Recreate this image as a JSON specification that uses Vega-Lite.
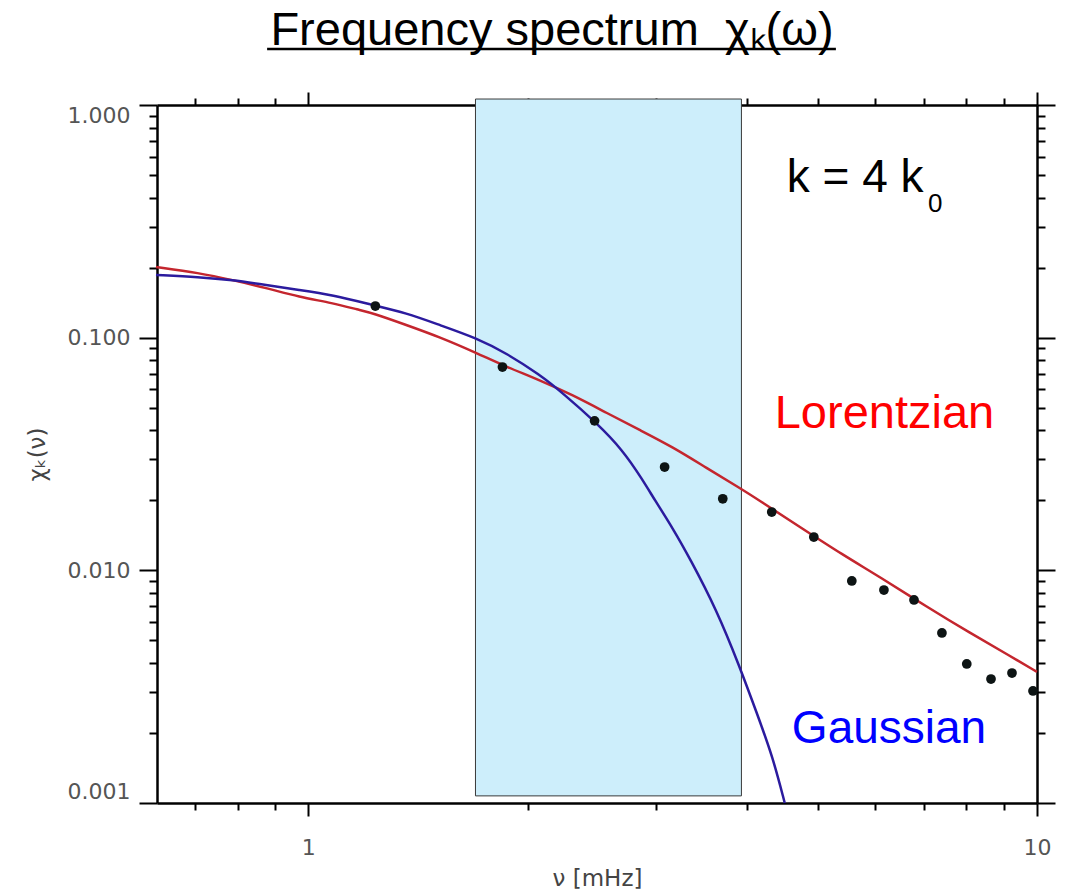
{
  "$schema": "https://vega.github.io/schema/vega-lite/v6.json",
  "width": 880,
  "height": 698,
  "autosize": {"type": "none"},
  "padding": {"left": 157, "top": 105, "right": 28, "bottom": 93},
  "background": "white",
  "config": {
    "view": {"stroke": null},
    "axis": {"grid": false, "zindex": 1, "tickColor": "black", "domainColor": "black", "tickWidth": 2, "domainWidth": 2.5, "labelOverlap": false}
  },
  "title": {
    "text": "Frequency spectrum\u00a0 χₖ(ω)",
    "font": "Liberation Sans",
    "fontSize": 47,
    "fontWeight": "normal",
    "color": "black",
    "anchor": "middle",
    "dx": -45,
    "offset": -7
  },
  "datasets": {
    "band": [{"nu_lo": 1.696, "nu_hi": 3.93, "chi_lo": 0.001073, "chi_hi": 1.061}],
    "lorentzian": [
      {"nu": 0.618, "chi": 0.2013}, {"nu": 0.7084, "chi": 0.1897}, {"nu": 0.7863, "chi": 0.177},
      {"nu": 0.8756, "chi": 0.1635}, {"nu": 0.9719, "chi": 0.1496}, {"nu": 1.0788, "chi": 0.141},
      {"nu": 1.175, "chi": 0.1315}, {"nu": 1.2243, "chi": 0.1277}, {"nu": 1.3633, "chi": 0.1134},
      {"nu": 1.5136, "chi": 0.1007}, {"nu": 1.7013, "chi": 0.086}, {"nu": 1.8707, "chi": 0.0748},
      {"nu": 2.0763, "chi": 0.0658}, {"nu": 2.3049, "chi": 0.0567}, {"nu": 2.5666, "chi": 0.0475},
      {"nu": 2.849, "chi": 0.0401}, {"nu": 3.1623, "chi": 0.0339}, {"nu": 3.5214, "chi": 0.0275},
      {"nu": 3.9087, "chi": 0.0226}, {"nu": 4.1652, "chi": 0.0199}, {"nu": 4.7259, "chi": 0.01537},
      {"nu": 5.4145, "chi": 0.01165}, {"nu": 6.0857, "chi": 0.00937}, {"nu": 7.063, "chi": 0.00696},
      {"nu": 8.091, "chi": 0.00538}, {"nu": 9.1823, "chi": 0.00429}, {"nu": 10, "chi": 0.00366}
    ],
    "gaussian": [
      {"nu": 0.618, "chi": 0.186}, {"nu": 0.7084, "chi": 0.1823}, {"nu": 0.7863, "chi": 0.177},
      {"nu": 0.8756, "chi": 0.1684}, {"nu": 0.9719, "chi": 0.1603}, {"nu": 1.0788, "chi": 0.1526},
      {"nu": 1.2243, "chi": 0.1382}, {"nu": 1.3633, "chi": 0.1277}, {"nu": 1.5136, "chi": 0.1134},
      {"nu": 1.7013, "chi": 0.0997}, {"nu": 1.8707, "chi": 0.0857}, {"nu": 2.0763, "chi": 0.0694},
      {"nu": 2.2334, "chi": 0.0579}, {"nu": 2.4866, "chi": 0.043}, {"nu": 2.7003, "chi": 0.0329},
      {"nu": 2.8758, "chi": 0.0245}, {"nu": 2.9874, "chi": 0.0201}, {"nu": 3.1623, "chi": 0.0152},
      {"nu": 3.3371, "chi": 0.0113}, {"nu": 3.634, "chi": 0.00676}, {"nu": 3.9087, "chi": 0.00385},
      {"nu": 4.1247, "chi": 0.00244}, {"nu": 4.3386, "chi": 0.00158}, {"nu": 4.5063, "chi": 0.001}
    ],
    "measured": [
      {"nu": 1.236, "chi": 0.1368}, {"nu": 1.847, "chi": 0.0748}, {"nu": 2.471, "chi": 0.0439},
      {"nu": 3.083, "chi": 0.0278}, {"nu": 3.705, "chi": 0.0203}, {"nu": 4.325, "chi": 0.0178},
      {"nu": 4.94, "chi": 0.0139}, {"nu": 5.57, "chi": 0.009}, {"nu": 6.165, "chi": 0.00823},
      {"nu": 6.78, "chi": 0.00746}, {"nu": 7.405, "chi": 0.00538}, {"nu": 8.01, "chi": 0.00396},
      {"nu": 8.647, "chi": 0.00341}, {"nu": 9.24, "chi": 0.00362}, {"nu": 9.875, "chi": 0.00303}
    ]
  },
  "layer": [
    {
      "data": {"name": "band"},
      "mark": {"type": "rect", "fill": "#cdeefb", "stroke": "#3a3a3a", "strokeWidth": 1},
      "encoding": {
        "x": {"field": "nu_lo", "type": "quantitative", "scale": {"type": "log", "domain": [0.62, 10]},
          "axis": {"orient": "bottom", "values": [1, 10], "format": "d", "tickSize": 13, "labelFlush": false,
            "labelFont": "DejaVu Sans", "labelFontSize": 22, "labelColor": "#555", "labelPadding": 21,
            "title": "ν [mHz]", "titleFont": "DejaVu Sans", "titleFontSize": 23, "titleFontWeight": "normal", "titleColor": "#444", "titlePadding": 9}},
        "x2": {"field": "nu_hi"},
        "y": {"field": "chi_lo", "type": "quantitative", "scale": {"type": "log", "domain": [0.001, 1]},
          "axis": {"orient": "left", "values": [0.001, 0.01, 0.1, 1], "format": ".3f", "tickSize": 18, "labelFlush": true,
            "labelFont": "DejaVu Sans", "labelFontSize": 22, "labelColor": "#555", "labelPadding": 9,
            "title": "χₖ(ν)", "titleFont": "DejaVu Sans", "titleFontSize": 23, "titleFontWeight": "normal", "titleColor": "#444", "titlePadding": 18}},
        "y2": {"field": "chi_hi"}
      }
    },
    {
      "data": {"name": "lorentzian"},
      "mark": {"type": "line", "color": "#c4262e", "strokeWidth": 2.5, "interpolate": "basis"},
      "encoding": {
        "x": {"field": "nu", "type": "quantitative", "scale": {"type": "log", "domain": [0.62, 10]},
          "axis": {"orient": "bottom", "values": [0.7, 0.8, 0.9, 2, 3, 4, 5, 6, 7, 8, 9], "tickSize": 7, "labels": false, "domain": false, "title": null}},
        "y": {"field": "chi", "type": "quantitative", "scale": {"type": "log", "domain": [0.001, 1]},
          "axis": {"orient": "left", "values": [0.002, 0.003, 0.004, 0.005, 0.006, 0.007, 0.008, 0.009, 0.02, 0.03, 0.04, 0.05, 0.06, 0.07, 0.08, 0.09, 0.2, 0.3, 0.4, 0.5, 0.6, 0.7, 0.8, 0.9], "tickSize": 8, "labels": false, "domain": false, "title": null}}
      }
    },
    {
      "data": {"name": "gaussian"},
      "mark": {"type": "line", "color": "#2b1b9e", "strokeWidth": 2.5, "interpolate": "basis"},
      "encoding": {
        "x": {"field": "nu", "type": "quantitative", "scale": {"type": "log", "domain": [0.62, 10]},
          "axis": {"orient": "top", "values": [1, 10], "tickSize": 13, "labels": false, "domain": true, "title": null}},
        "y": {"field": "chi", "type": "quantitative", "scale": {"type": "log", "domain": [0.001, 1]},
          "axis": {"orient": "right", "values": [0.001, 0.01, 0.1, 1], "tickSize": 18, "labels": false, "domain": true, "title": null}}
      }
    },
    {
      "data": {"name": "measured"},
      "mark": {"type": "circle", "color": "#0d1414", "opacity": 1, "size": 95},
      "encoding": {
        "x": {"field": "nu", "type": "quantitative", "scale": {"type": "log", "domain": [0.62, 10]},
          "axis": {"orient": "top", "values": [0.7, 0.8, 0.9, 2, 3, 4, 5, 6, 7, 8, 9], "tickSize": 7, "labels": false, "domain": false, "title": null}},
        "y": {"field": "chi", "type": "quantitative", "scale": {"type": "log", "domain": [0.001, 1]},
          "axis": {"orient": "right", "values": [0.002, 0.003, 0.004, 0.005, 0.006, 0.007, 0.008, 0.009, 0.02, 0.03, 0.04, 0.05, 0.06, 0.07, 0.08, 0.09, 0.2, 0.3, 0.4, 0.5, 0.6, 0.7, 0.8, 0.9], "tickSize": 8, "labels": false, "domain": false, "title": null}}
      }
    },
    {
      "data": {"values": [{"nu_lo": 0.878, "nu_hi": 5.297, "chi": 1.74}]},
      "mark": {"type": "rule", "color": "black", "strokeWidth": 2.5},
      "encoding": {
        "x": {"field": "nu_lo", "type": "quantitative", "scale": {"type": "log", "domain": [0.62, 10]}, "axis": null},
        "x2": {"field": "nu_hi"},
        "y": {"field": "chi", "type": "quantitative", "scale": {"type": "log", "domain": [0.001, 1]}, "axis": null}
      }
    },
    {
      "data": {"values": [{"label": "k = 4 k", "nu": 4.536, "chi": 0.4228}]},
      "mark": {"type": "text", "align": "left", "baseline": "alphabetic", "font": "Liberation Sans", "fontSize": 46, "color": "black"},
      "encoding": {
        "x": {"field": "nu", "type": "quantitative", "scale": {"type": "log", "domain": [0.62, 10]}, "axis": null},
        "y": {"field": "chi", "type": "quantitative", "scale": {"type": "log", "domain": [0.001, 1]}, "axis": null},
        "text": {"field": "label"}
      }
    },
    {
      "data": {"values": [{"label": "0", "nu": 7.086, "chi": 0.3468}]},
      "mark": {"type": "text", "align": "left", "baseline": "alphabetic", "font": "Liberation Sans", "fontSize": 26, "color": "black"},
      "encoding": {
        "x": {"field": "nu", "type": "quantitative", "scale": {"type": "log", "domain": [0.62, 10]}, "axis": null},
        "y": {"field": "chi", "type": "quantitative", "scale": {"type": "log", "domain": [0.001, 1]}, "axis": null},
        "text": {"field": "label"}
      }
    },
    {
      "data": {"values": [{"label": "Lorentzian", "nu": 4.366, "chi": 0.0409}]},
      "mark": {"type": "text", "align": "left", "baseline": "alphabetic", "font": "Liberation Sans", "fontSize": 47, "color": "#ff0000"},
      "encoding": {
        "x": {"field": "nu", "type": "quantitative", "scale": {"type": "log", "domain": [0.62, 10]}, "axis": null},
        "y": {"field": "chi", "type": "quantitative", "scale": {"type": "log", "domain": [0.001, 1]}, "axis": null},
        "text": {"field": "label"}
      }
    },
    {
      "data": {"values": [{"label": "Gaussian", "nu": 4.609, "chi": 0.001813}]},
      "mark": {"type": "text", "align": "left", "baseline": "alphabetic", "font": "Liberation Sans", "fontSize": 46, "color": "#0000ff"},
      "encoding": {
        "x": {"field": "nu", "type": "quantitative", "scale": {"type": "log", "domain": [0.62, 10]}, "axis": null},
        "y": {"field": "chi", "type": "quantitative", "scale": {"type": "log", "domain": [0.001, 1]}, "axis": null},
        "text": {"field": "label"}
      }
    }
  ],
  "resolve": {"axis": {"x": "independent", "y": "independent"}}
}
